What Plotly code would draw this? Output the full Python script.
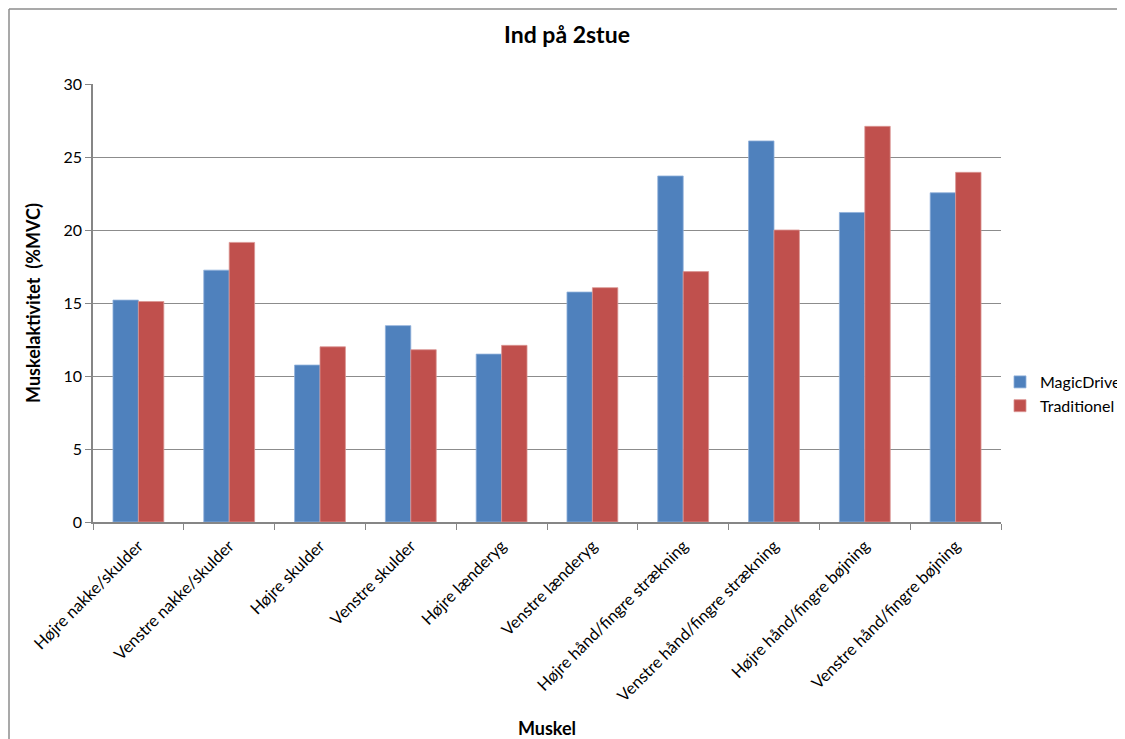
import plotly.graph_objects as go

categories = ["Højre nakke/skulder", "Venstre nakke/skulder", "Højre skulder", "Venstre skulder",
              "Højre lænderyg", "Venstre lænderyg", "Højre hånd/fingre strækning",
              "Venstre hånd/fingre strækning", "Højre hånd/fingre bøjning", "Venstre hånd/fingre bøjning"]
magicdrive = [15.2, 17.25, 10.75, 13.45, 11.5, 15.75, 23.7, 26.1, 21.2, 22.55]
traditionel = [15.1, 19.15, 12.0, 11.8, 12.1, 16.05, 17.15, 20.0, 27.1, 23.95]
y_ticks = [0, 5, 10, 15, 20, 25, 30]

FONT = "Lato"
OFF = 8  # page body margin
W, H = 1117, 731
L, T = 93 - OFF, 84 - OFF
pw, ph = 908, 438
R, B = W - L - pw, H - T - ph

def px(x):
    return (x - OFF - L) / pw

def py(y):
    return (T + ph - (y - OFF)) / ph

fig = go.Figure()
fig.add_trace(go.Bar(name="MagicDrive", x=categories, y=magicdrive,
                     marker=dict(color="#4F81BD", line=dict(color="#8FB0DA", width=0.8))))
fig.add_trace(go.Bar(name="Traditionel", x=categories, y=traditionel,
                     marker=dict(color="#C0504D", line=dict(color="#DA9593", width=0.8))))

fig.update_layout(
    width=W, height=H,
    margin=dict(l=L, r=R, t=T, b=B, autoexpand=False),
    paper_bgcolor="white", plot_bgcolor="white",
    barmode="group", bargap=0.44, bargroupgap=0,
    font=dict(family=FONT, color="black", size=15),
    title=dict(text="<b>Ind på 2stue</b>", x=(567 - OFF) / W, xanchor="center",
               y=1 - (35 - OFF) / H, yanchor="middle",
               font=dict(size=23, family=FONT)),
    showlegend=True,
    legend=dict(x=px(1000), y=py(394), xanchor="left", yanchor="middle",
                font=dict(size=16, family=FONT), tracegroupgap=10, itemwidth=30,
                bgcolor="rgba(0,0,0,0)"),
    xaxis=dict(
        tickangle=-45, tickfont=dict(size=16.5, family=FONT),
        showline=True, linecolor="#868686", linewidth=1.5,
        ticks="outside", tickson="boundaries", ticklen=6, tickcolor="#868686",
        ticklabelstandoff=6,
        showgrid=False,
        title=dict(text="<b>Muskel</b>", font=dict(size=18, family=FONT), standoff=18),
    ),
    yaxis=dict(
        range=[0, 30], tickvals=y_ticks, tickfont=dict(size=16, family=FONT),
        showline=True, linecolor="#868686", linewidth=1.5,
        ticks="outside", ticklen=6, tickcolor="#868686",
        showgrid=True, gridcolor="#8C8C8C", gridwidth=1,
        zeroline=False,
        title=dict(text="<b>Muskelaktivitet  (%MVC)</b>", font=dict(size=18, family=FONT), standoff=18),
    ),
    shapes=[
        dict(type="line", xref="paper", yref="paper", x0=px(9), x1=px(1125 + 20), y0=py(9), y1=py(9),
             line=dict(color="#8C8C8C", width=1.5)),
        dict(type="line", xref="paper", yref="paper", x0=px(9), x1=px(9), y0=py(9), y1=py(739 + 20),
             line=dict(color="#8C8C8C", width=1.5)),
    ],
)

fig.write_html("out.html")
